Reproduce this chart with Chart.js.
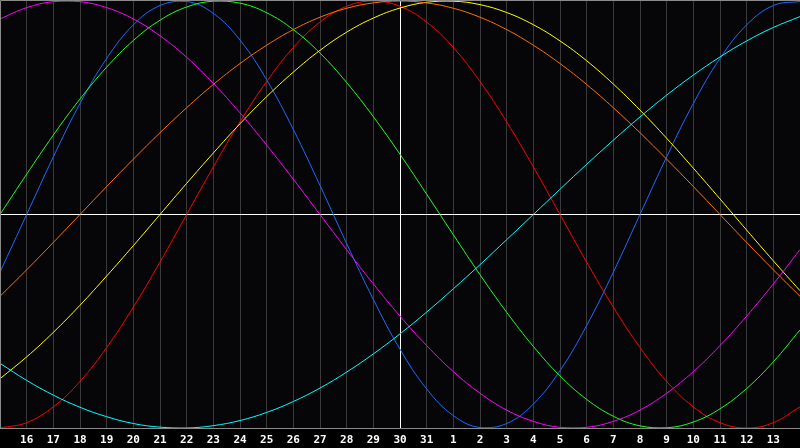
<!DOCTYPE html>
<html>
<head>
<meta charset="utf-8">
<script src="https://cdn.jsdelivr.net/npm/chart.js@4/dist/chart.umd.min.js"></script>
<style>
html,body{margin:0;padding:0;background:#000;}
#wrap{position:relative;width:800px;height:448px;}
</style>
</head>
<body>
<div id="wrap"><canvas id="c" width="800" height="448"></canvas></div>
<script>
const days = ['15','16','17','18','19','20','21','22','23','24','25','26','27','28','29','30','31','1','2','3','4','5','6','7','8','9','10','11','12','13','14'];
const red = [-100,-97.5,-90.1,-78.2,-62.3,-43.4,-22.3,0,22.3,43.4,62.3,78.2,90.1,97.5,100,97.5,90.1,78.2,62.3,43.4,22.3,0,-22.3,-43.4,-62.3,-78.2,-90.1,-97.5,-100,-97.5,-90.1];
const orange = [-38.3,-25.9,-13.1,0,13.1,25.9,38.3,50,60.9,70.7,79.3,86.6,92.4,96.6,99.1,100,99.1,96.6,92.4,86.6,79.3,70.7,60.9,50,38.3,25.9,13.1,0,-13.1,-25.9,-38.3];
const yellow = [-76.9,-66.7,-55.2,-42.5,-28.8,-14.6,0,14.6,28.8,42.5,55.2,66.7,76.9,85.4,92.0,96.7,99.4,99.9,98.3,94.6,88.9,81.3,72.0,61.1,48.9,35.7,21.7,7.3,-7.3,-21.7,-35.7];
const green = [0,18.9,37.2,54.1,69.0,81.5,91.0,97.2,99.9,99.0,94.5,86.6,75.6,61.8,45.8,28.2,9.5,-9.5,-28.2,-45.8,-61.8,-75.6,-86.6,-94.5,-99.0,-99.9,-97.2,-91.0,-81.5,-69.0,-54.1];
const cyan = [-69.7,-77.7,-84.6,-90.3,-94.7,-97.9,-99.6,-100,-98.9,-96.5,-92.7,-87.6,-81.3,-73.8,-65.3,-55.9,-45.7,-34.8,-23.5,-11.8,0,11.8,23.5,34.8,45.7,55.9,65.3,73.8,81.3,87.6,92.7];
const blue = [-27.0,0,27.0,52.0,73.1,88.8,97.9,99.8,94.2,81.7,63.1,39.8,13.6,-13.6,-39.8,-63.1,-81.7,-94.2,-99.8,-97.9,-88.8,-73.1,-52.0,-27.0,0,27.0,52.0,73.1,88.8,97.9,99.8];
const magenta = [91.6,96.9,99.7,99.7,96.9,91.6,83.7,73.6,61.4,47.6,32.5,16.5,0,-16.5,-32.5,-47.6,-61.4,-73.6,-83.7,-91.6,-96.9,-99.7,-99.7,-96.9,-91.6,-83.7,-73.6,-61.4,-47.6,-32.5,-16.5];

const todayIndex = 15;

function ds(data, color){
  return {data: data, borderColor: color, borderWidth: 1, pointRadius: 0, tension: 0.4, fill: false};
}

const bgPlugin = {
  id: 'bg',
  beforeDraw(chart){
    const ctx = chart.ctx;
    ctx.save();
    ctx.fillStyle = '#000000';
    ctx.fillRect(0,0,chart.width,chart.height);
    const a = chart.chartArea;
    ctx.fillStyle = '#060609';
    ctx.fillRect(a.left, a.top, a.right-a.left, a.bottom-a.top);
    ctx.restore();
  },
  afterDraw(chart){
    const ctx = chart.ctx;
    const a = chart.chartArea;
    ctx.save();
    ctx.strokeStyle = '#8a8a8a';
    ctx.lineWidth = 1;
    ctx.beginPath();
    ctx.moveTo(a.left+0.5, a.bottom+0.5);
    ctx.lineTo(a.left+0.5, 0.5);
    ctx.lineTo(a.right, 0.5);
    ctx.moveTo(a.left, a.bottom+0.5);
    ctx.lineTo(a.right, a.bottom+0.5);
    ctx.stroke();
    ctx.restore();
  }
};

new Chart(document.getElementById('c'), {
  type: 'line',
  data: {
    labels: days,
    datasets: [ds(cyan,'#00ffff'), ds(magenta,'#ff00ff'), ds(orange,'#ff7000'), ds(yellow,'#ffff00'), ds(green,'#20ff20'), ds(red,'#ff0000'), ds(blue,'#1a6cff')]
  },
  options: {
    responsive: false,
    animation: false,
    devicePixelRatio: 1,
    layout: {padding: {top: 1, left: 0, right: 0, bottom: 0}},
    plugins: {legend: {display: false}, tooltip: {enabled: false}},
    scales: {
      x: {
        type: 'category',
        offset: false,
        border: {display: false},
        grid: {
          drawTicks: false,
          lineWidth: 1,
          color: (c) => c.index === todayIndex ? '#ffffff' : (c.index === 0 || c.index === days.length-1 ? 'rgba(0,0,0,0)' : '#3a3a3a')
        },
        ticks: {
          autoSkip: false,
          maxRotation: 0,
          padding: 6,
          color: '#ffffff',
          font: {family: 'DejaVu Sans Mono', size: 11, weight: 'bold'},
          callback: (v, i) => (i === 0 || i === days.length-1) ? '' : days[i]
        },
        afterFit: (s) => { s.height = 20; s.paddingLeft = 0; s.paddingRight = 0; }
      },
      y: {
        display: true,
        min: -100, max: 100,
        border: {display: false},
        ticks: {display: false, stepSize: 100},
        grid: {
          drawTicks: false,
          lineWidth: 1,
          color: (c) => c.tick && c.tick.value === 0 ? '#ffffff' : 'rgba(0,0,0,0)'
        },
        afterFit: (s) => { s.width = 0; s.paddingTop = 0; s.paddingBottom = 0; }
      }
    }
  },
  plugins: [bgPlugin]
});
</script>
</body>
</html>
